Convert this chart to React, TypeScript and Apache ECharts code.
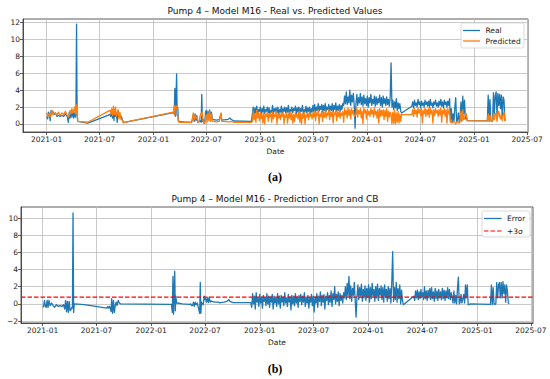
import React, { useEffect, useRef } from "react";
import * as echarts from "echarts";

// x positions are days counted from 2021-01-01
const sparseDays = [0, 3, 6, 9, 12, 15, 18, 21, 25, 30, 35, 40, 46, 52, 58, 64, 70, 74, 77, 80, 83, 86, 89, 92, 95, 98, 100, 102, 104, 106, 140, 216, 219, 222, 225, 228, 230, 232, 235, 238, 241, 244, 247, 250, 254, 258, 262, 433, 436, 438, 440, 442, 444, 446, 448, 450, 453, 470, 495, 498, 501, 504, 507, 510, 513, 516, 520, 524, 528, 530, 532, 534, 537, 540, 543, 545, 548, 551, 554, 557, 560, 563, 566, 570, 580, 590, 596, 598, 610, 620, 626, 630, 640, 700];
const sparseReal = [0.9, 0.6, 1.4, 1.0, 0.4, 1.6, 1.2, 1.5, 1.1, 1.3, 0.9, 1.0, 0.9, 1.0, 0.9, 1.2, 0.9, 0.2, 1.4, 0.7, 1.5, 0.8, 1.6, 0.7, 1.3, 0.8, 1.8, 11.8, 1.0, 0.3, 0.1, 1.1, 0.9, 1.3, 0.7, 1.5, 0.4, 1.7, 0.9, 1.3, 0.2, 1.5, 0.8, 1.2, 0.9, 0.6, 0.15, 1.35, 1.2, 4.2, 0.9, 3.0, 5.9, 1.0, 1.9, 0.4, 0.3, 0.25, 0.2, 0.6, 1.1, 0.3, 1.2, 0.4, 1.0, 0.2, 0.3, 0.4, 0.2, 3.5, 0.3, 0.6, 0.1, 0.1, 1.4, 1.6, 0.8, 1.5, 1.0, 1.65, 0.9, 1.4, 0.6, 0.5, 0.45, 0.5, 1.2, 0.45, 0.5, 0.55, 0.7, 0.55, 0.35, 0.3];
const sparsePred = [1.3, 0.9, 1.0, 1.3, 0.8, 1.2, 1.6, 1.1, 1.3, 1.2, 1.1, 1.4, 1.0, 1.3, 1.1, 1.5, 1.0, 0.8, 1.0, 1.6, 1.2, 1.8, 1.3, 1.5, 2.0, 1.2, 2.3, 1.2, 2.2, 0.3, 0.2, 1.6, 1.2, 1.8, 1.0, 2.1, 1.3, 1.1, 2.0, 0.9, 1.2, 1.7, 0.6, 1.4, 0.5, 0.5, 0.15, 1.4, 2.2, 1.0, 2.1, 1.8, 2.1, 1.8, 1.0, 0.3, 0.2, 0.2, 0.15, 0.6, 1.3, 0.5, 1.0, 0.7, 0.8, 0.3, 0.2, 0.9, 1.3, 1.0, 1.4, 0.4, 0.1, 0.2, 0.5, 1.1, 0.2, 1.3, 0.4, 1.5, 0.3, 1.2, 0.3, 0.3, 0.25, 0.3, 1.3, 0.3, 0.3, 0.25, 0.25, 0.3, 0.2, 0.18];
const sparseErr = [-0.4, -0.3, 0.4, -0.3, -0.4, 0.4, -0.4, 0.4, -0.2, 0.1, -0.2, -0.4, -0.1, -0.3, -0.2, -0.3, -0.1, -0.6, 0.4, -0.9, 0.3, -1.0, 0.3, -0.8, -0.7, -0.4, -0.5, 10.6, -1.0, 0.0, -0.1, -0.5, -0.3, -0.5, -0.3, -0.6, -0.9, 0.6, -1.1, 0.4, -1.0, -0.2, 0.2, -0.2, 0.4, 0.1, 0.0, -0.05, -1.0, 3.2, -1.2, 1.2, 3.8, -0.8, 0.9, 0.1, 0.1, 0.0, -0.05, 0.0, -0.2, -0.2, 0.2, -0.3, 0.2, -0.1, 0.1, -0.5, -1.1, 2.5, -1.1, 0.2, 0.0, -0.1, 0.9, 0.5, 0.6, 0.2, 0.7, 0.15, 0.8, 0.2, 0.35, 0.25, 0.2, 0.2, 0.1, 0.15, 0.2, 0.3, 0.5, 0.3, 0.15, 0.15];

// dense periods: one reading every 3 days from the start day
const denseStep = 3;
const seg1Start = 703;
const seg1Real = [
  1.2, 2.0, 0.8, 1.9, 1.3, 2.1, 1.0, 1.7, 1.5, 2.0,
  1.1, 1.8, 1.4, 2.1, 1.2, 1.7, 1.5, 2.0, 1.3, 1.9,
  1.1, 1.6, 1.4, 2.2, 1.2, 1.8, 1.5, 1.9, 1.3, 2.0,
  1.2, 1.7, 1.4, 2.1, 1.1, 1.8, 1.5, 2.0, 1.3, 1.9,
  1.4, 2.2, 1.2, 1.7, 1.5, 2.0, 1.3, 1.8, 1.6, 2.1,
  1.2, 1.9, 1.4, 2.0, 1.3, 1.8, 1.5, 2.2, 1.2, 1.7,
  1.4, 2.1, 1.3, 1.9, 1.5, 2.0, 1.2, 1.8, 1.4, 2.2,
  1.5, 2.3, 1.4, 2.0, 1.6, 2.4, 1.5, 2.1, 1.7, 2.3,
  1.4, 2.2, 1.6, 2.4, 1.5, 2.0, 1.7, 2.3, 1.5, 2.1,
  1.6, 2.4, 1.4, 2.2, 1.7, 2.5, 1.5, 2.1, 1.6, 2.3,
  1.5, 2.2, 1.7, 2.4, 2.2, 3.3, 2.4, 3.8, 2.3, 3.2,
  2.5, 4.0, 2.2, 3.4, 2.6, 3.6, 2.3, -0.5, 2.4, 3.5,
  2.2, 3.1, 2.5, 3.6, 2.3, 3.2, 2.1, 3.4, 2.4, 3.0,
  2.2, 3.3, 2.0, 3.1, 2.5, 3.5, 2.2, 2.9, 2.4, 3.3,
  2.1, 3.2, 2.3, 3.0, 2.5, 3.4, 2.2, 3.1, 2.0, 3.3,
  2.4, 3.0, 2.2, 3.2, 2.3, 2.9, 2.1, 3.1, 7.2, 2.0,
  2.8, 1.7, 2.6, 1.9, 3.0, 1.6, 2.5, 1.8, 2.4, 1.5,
  1.3,
];
const seg1Pred = [
  0.3, 1.5, 0.5, 1.2, 0.2, 1.6, 0.7, 1.3, 0.4, 1.4,
  0.6, 1.2, 0.1, 1.3, 0.0, 1.1, 0.9, 1.4, 0.3, 1.2,
  0.8, 1.3, 0.2, 1.4, 0.6, 1.1, 0.9, 1.5, 0.0, 1.2,
  0.7, 1.3, 0.5, 1.2, 0.9, 1.4, 0.0, 1.1, 0.8, 1.3,
  0.1, 1.2, 0.7, 1.4, 0.5, 1.3, 0.1, 1.1, 0.3, 1.4,
  0.8, 1.2, 0.6, 1.5, 0.2, 1.3, 0.0, 1.2, 0.7, 1.4,
  0.0, 1.1, 0.8, 1.3, 0.5, 1.4, 0.9, 1.2, 0.6, 1.3,
  0.8, 1.5, 0.4, 1.3, 1.0, 1.6, 0.0, 1.2, 0.9, 1.5,
  0.3, 1.4, 0.8, 1.6, 0.7, 1.3, 1.0, 1.7, 0.5, 1.4,
  0.9, 1.5, 0.1, 1.3, 1.1, 1.6, 0.4, 1.4, 0.9, 1.7,
  0.7, 1.3, 1.0, 1.5, 0.2, 1.8, 1.1, 1.6, 0.7, 1.9,
  1.0, 1.7, 0.6, 1.8, 1.2, 1.6, 0.9, 1.0, 1.1, 1.9,
  0.8, 1.6, 1.2, 1.8, 0.7, 1.5, 0.0, 1.9, 1.3, 1.6,
  0.6, 1.7, 1.1, 1.5, 0.9, 1.8, 1.2, 1.6, 0.8, 1.9,
  1.1, 1.5, 0.7, 1.7, 0.1, 1.8, 0.9, 1.6, 1.0, 1.7,
  0.5, 1.6, 0.9, 1.8, 0.3, 1.5, 0.8, 1.4, 1.1, 0.0,
  1.4, 0.1, 1.6, 0.0, 1.3, 0.2, 1.5, 0.1, 1.2, 0.3,
  1.1,
];
const seg1Err = [
  -0.4, 1.2, 0.0, 0.9, -0.6, 1.3, 0.2, 0.7, -0.3, 1.1,
  0.1, 0.8, -0.5, 1.0, 0.3, 0.7, -0.2, 1.2, 0.0, 0.9,
  -0.4, 0.8, 0.2, 1.1, -0.6, 0.9, 0.1, 0.7, -0.3, 1.2,
  0.0, 0.9, -0.5, 1.0, 0.2, 0.8, -0.2, 1.3, 0.1, 0.7,
  -0.3, 1.1, 0.2, 0.8, -0.7, 1.0, 0.0, 0.9, -0.2, 1.2,
  0.1, 0.8, -0.4, 1.0, 0.3, 1.1, -0.1, 0.9, 0.2, 1.3,
  -0.3, 0.8, 0.1, 1.0, -0.5, 0.7, 0.2, 1.1, -0.2, 0.9,
  -0.95, 0.8, 0.1, 1.2, -0.4, 0.9, 0.3, 1.4, -0.2, 1.0,
  0.2, 1.1, -0.6, 0.9, 0.4, 1.3, -0.1, 1.0, 0.2, 1.5,
  -0.3, 1.2, 0.5, 2.0, 0.0, 1.1, 0.3, 1.4, -0.2, 1.2,
  0.4, 1.0, 0.1, 1.3, 0.7, 2.0, 0.5, 2.4, 0.9, 3.2,
  0.6, 2.1, 0.3, 1.8, 1.0, 2.5, 0.4, -1.55, 0.8, 2.2,
  0.5, 1.9, 0.9, 2.3, 0.3, 1.7, 0.7, 2.1, 0.4, 1.8,
  0.8, 2.2, 0.2, 1.9, 0.6, 2.4, 0.9, 1.7, 0.3, 2.0,
  0.7, 2.3, 0.4, 1.8, 1.0, 2.1, 0.5, 1.9, 0.2, 2.2,
  0.8, 1.7, 0.3, 2.0, 0.6, 1.8, 0.1, 2.4, 6.1, 0.3,
  1.9, 0.5, 2.5, 0.2, 1.8, 0.6, 2.2, 0.0, 1.6, 0.4,
  -0.1,
];
const seg2Start = 1248;
const seg2Real = [
  2.1, 2.6, 1.9, 2.8, 2.2, 2.5, 2.0, 2.9, 2.3, 2.6,
  1.9, 2.7, 2.2, 2.5, 2.0, 2.8, 2.3, 2.6, 2.1, 2.7,
  2.0, 2.9, 2.2, 2.5, 1.9, 2.6, 2.3, 2.8, 2.1, 2.5,
  2.0, 2.7, 2.2, 2.9, 2.1, 2.6, 1.9, 2.8, 2.3, 2.6,
  2.0, 2.7, 2.2, 3.0, 0.3, 1.8, 0.2, 1.2, 0.3, 2.0,
  3.1, 0.2, 0.5, 1.3, 0.2, 0.9, 2.6, 0.4, 3.3, 1.2,
  2.8, 0.6, 1.0, 0.4,
];
const seg2Pred = [
  1.1, 1.7, 0.9, 1.8, 1.2, 1.6, 0.8, 1.9, 1.3, 1.7,
  1.0, 1.8, 0.1, 1.6, 1.2, 1.9, 0.9, 1.7, 1.1, 1.8,
  0.8, 1.9, 1.2, 1.6, 0.1, 1.7, 1.0, 1.8, 1.3, 1.6,
  0.9, 1.7, 1.1, 1.9, 0.2, 1.6, 1.2, 1.8, 0.9, 1.7,
  0.1, 1.8, 1.2, 1.6, 0.2, 0.3, 0.1, 0.2, 0.3, 0.2,
  0.0, 0.2, 0.3, 0.2, 0.1, 0.3, 1.5, 0.3, 1.7, 0.5,
  0.6, 1.1, 1.2, 0.4,
];
const seg2Err = [
  0.9, 0.4, 1.5, 0.7, 1.6, 0.5, 1.4, 0.6, 1.7, 0.8,
  1.3, 0.5, 2.0, 0.6, 1.5, 0.4, 1.6, 0.7, 1.8, 0.5,
  1.9, 0.6, 1.4, 0.3, 1.8, 0.6, 1.5, 0.4, 1.7, 0.7,
  1.4, 0.5, 1.8, 0.6, 1.6, 0.4, 1.5, 0.7, 1.9, 0.6,
  1.7, 0.5, 1.3, 0.8, 0.1, 1.5, 0.1, 1.0, 0.0, 1.8,
  3.1, 0.0, 0.2, 1.1, 0.1, 0.6, 1.1, 0.1, 2.2, 0.7,
  2.2, -0.1, -0.1, 0.0,
];
const seg3Start = 1506;
const seg3Real = [0.36, 3.4, 0.3, 2.9, 0.4, 0.3, 0.4, 3.7, 1.2, 3.3, 3.8, 1.0, 3.6, 2.2, 3.5, 1.8, 3.4, 0.6, 3.2, 2.8, 0.5, 0.4];
const seg3Pred = [0.36, 1.2, 0.4, 1.0, 0.4, 0.35, 0.4, 1.2, 0.5, 1.1, 1.3, 0.3, 1.1, 1.5, 0.9, 0.6, 1.2, 0.4, 1.0, 1.4, 0.4, 0.4];
const seg3Err = [-0.05, 2.2, -0.1, 1.9, 0.0, -0.05, 0.0, 2.5, 0.7, 2.2, 2.5, 0.7, 2.5, 0.7, 2.6, 1.2, 2.2, 0.2, 2.2, 1.4, 0.1, 0.0];

const sigmaLimit = 0.78;

const xTickDays = [0, 181, 365, 546, 730, 911, 1095, 1277, 1461, 1642];
const xTickLabels = ["2021-01", "2021-07", "2022-01", "2022-07", "2023-01", "2023-07", "2024-01", "2024-07", "2025-01", "2025-07"];
const topYTicks = [0, 2, 4, 6, 8, 10, 12];
const bottomYTicks = [-2, 0, 2, 4, 6, 8, 10];

const FONT = "DejaVu Sans";
const BLUE = "#1f77b4";
const ORANGE = "#ff7f0e";
const GRID = "#bdbdbd";
const LW = 1.3;

function assemble(sparse: number[], segs: [number, number[]][]) {
  const out: number[][] = sparseDays.map((d, i) => [d, sparse[i]]);
  segs.forEach(([start, vals]) => vals.forEach((v, i) => out.push([start + i * denseStep, v])));
  return out;
}

function xAxis(gridIndex: number, min: number, max: number) {
  return {
    type: "value",
    gridIndex,
    min,
    max,
    name: "Date",
    nameLocation: "middle",
    nameGap: 15,
    nameTextStyle: { fontFamily: FONT, fontSize: 7.5, color: "#222" },
    axisLine: { show: true, onZero: false, lineStyle: { color: "#333", width: 0.8 } },
    axisTick: { show: true, length: 3, customValues: xTickDays, lineStyle: { color: "#333", width: 0.8 } },
    axisLabel: {
      customValues: xTickDays,
      margin: 3,
      fontFamily: FONT,
      fontSize: 7.5,
      color: "#222",
      formatter: (v: number) => xTickLabels[xTickDays.indexOf(Math.round(v))] ?? "",
    },
    splitLine: { show: true, lineStyle: { color: GRID, width: 0.8 } },
  };
}

function yAxis(gridIndex: number, min: number, max: number, ticks: number[]) {
  return {
    type: "value",
    gridIndex,
    min,
    max,
    axisLine: { show: true, onZero: false, lineStyle: { color: "#333", width: 0.8 } },
    axisTick: { show: true, length: 3, customValues: ticks, lineStyle: { color: "#333", width: 0.8 } },
    axisLabel: {
      customValues: ticks,
      margin: 3,
      fontFamily: FONT,
      fontSize: 7.5,
      color: "#222",
      formatter: (v: number) => (v < 0 ? "\u2212" + Math.abs(v) : String(v)),
    },
    splitLine: { show: true, lineStyle: { color: GRID, width: 0.8 } },
  };
}

export default function App() {
  const ref = useRef<HTMLDivElement>(null);
  useEffect(() => {
    const chart = echarts.init(ref.current!, null, { renderer: "svg" });
    const real = assemble(sparseReal, [[seg1Start, seg1Real], [seg2Start, seg2Real], [seg3Start, seg3Real]]);
    const pred = assemble(sparsePred, [[seg1Start, seg1Pred], [seg2Start, seg2Pred], [seg3Start, seg3Pred]]);
    const err = assemble(sparseErr, [[seg1Start, seg1Err], [seg2Start, seg2Err], [seg3Start, seg3Err]]);
    const xMin2 = -73;
    const xMax2 = 1649;
    const option: any = {
      animation: false,
      backgroundColor: "#fff",
      title: [
        {
          text: "Pump 4 \u2013 Model M16 - Real vs. Predicted Values",
          left: "center",
          top: 6,
          padding: 0,
          textStyle: { fontFamily: FONT, fontSize: 9, fontWeight: "normal", color: "#111" },
        },
        {
          text: "Pump 4 \u2013 Model M16 - Prediction Error and CB",
          left: "center",
          top: 194,
          padding: 0,
          textStyle: { fontFamily: FONT, fontSize: 9, fontWeight: "normal", color: "#111" },
        },
      ],
      grid: [
        { left: 23, top: 19, width: 505, height: 113, show: true, borderColor: "#333", borderWidth: 0.8, containLabel: false },
        { left: 21, top: 207, width: 512, height: 116, show: true, borderColor: "#333", borderWidth: 0.8, containLabel: false },
      ],
      xAxis: [xAxis(0, -81, 1645), xAxis(1, xMin2, xMax2)],
      yAxis: [yAxis(0, -0.95, 12.4, topYTicks), yAxis(1, -2.23, 11.29, bottomYTicks)],
      series: [
        {
          name: "Real",
          type: "line",
          xAxisIndex: 0,
          yAxisIndex: 0,
          data: real,
          symbol: "none",
          lineStyle: { color: BLUE, width: LW, join: "round" },
          itemStyle: { color: BLUE },
          z: 2,
        },
        {
          name: "Predicted",
          type: "line",
          xAxisIndex: 0,
          yAxisIndex: 0,
          data: pred,
          symbol: "none",
          lineStyle: { color: ORANGE, width: LW, join: "round" },
          itemStyle: { color: ORANGE },
          z: 3,
        },
        {
          name: "Error",
          type: "line",
          xAxisIndex: 1,
          yAxisIndex: 1,
          data: err,
          symbol: "none",
          lineStyle: { color: BLUE, width: LW, join: "round" },
          itemStyle: { color: BLUE },
          z: 2,
        },
        {
          name: "+3\u03c3",
          type: "line",
          xAxisIndex: 1,
          yAxisIndex: 1,
          data: [[xMin2, sigmaLimit], [xMax2, sigmaLimit]],
          symbol: "none",
          lineStyle: { color: "#ff0000", width: 1.2, type: [4.5, 2] },
          itemStyle: { color: "#ff0000" },
          z: 4,
        },
      ],
      graphic: [
        // legend (a)
        { type: "rect", z: 100, shape: { x: 461, y: 23, width: 63, height: 25, r: 2 }, style: { fill: "rgba(255,255,255,0.85)", stroke: "#d0d0d0", lineWidth: 0.8 } },
        { type: "line", z: 101, shape: { x1: 463, y1: 30.5, x2: 480, y2: 30.5 }, style: { stroke: BLUE, lineWidth: LW } },
        { type: "text", z: 101, x: 485.5, y: 30.5, style: { text: "Real", fontFamily: FONT, fontSize: 7.5, fill: "#222", verticalAlign: "middle" } },
        { type: "line", z: 101, shape: { x1: 463, y1: 41, x2: 480, y2: 41 }, style: { stroke: ORANGE, lineWidth: LW } },
        { type: "text", z: 101, x: 485.5, y: 41, style: { text: "Predicted", fontFamily: FONT, fontSize: 7.5, fill: "#222", verticalAlign: "middle" } },
        // legend (b)
        { type: "rect", z: 100, shape: { x: 482, y: 211, width: 48, height: 26, r: 2 }, style: { fill: "rgba(255,255,255,0.85)", stroke: "#d0d0d0", lineWidth: 0.8 } },
        { type: "line", z: 101, shape: { x1: 484, y1: 218.5, x2: 501.5, y2: 218.5 }, style: { stroke: BLUE, lineWidth: LW } },
        { type: "text", z: 101, x: 507, y: 218.5, style: { text: "Error", fontFamily: FONT, fontSize: 7.5, fill: "#222", verticalAlign: "middle" } },
        { type: "line", z: 101, shape: { x1: 484, y1: 231, x2: 501.5, y2: 231 }, style: { stroke: "#ff0000", lineWidth: 1.2, lineDash: [4.5, 2] } },
        { type: "text", z: 101, x: 507, y: 231, style: { text: "+3\u03c3", fontFamily: FONT, fontSize: 7.5, fill: "#222", verticalAlign: "middle" } },
        // panel labels
        { type: "text", z: 101, x: 275, y: 177, style: { text: "(a)", fontFamily: "Liberation Serif", fontWeight: "bold", fontSize: 12, fill: "#000", align: "center", verticalAlign: "middle" } },
        { type: "text", z: 101, x: 275, y: 369, style: { text: "(b)", fontFamily: "Liberation Serif", fontWeight: "bold", fontSize: 12, fill: "#000", align: "center", verticalAlign: "middle" } },
      ],
    };
    chart.setOption(option);
    return () => chart.dispose();
  }, []);
  return <div ref={ref} style={{ position: "fixed", left: 0, top: 0, width: 550, height: 379 }} />;
}
